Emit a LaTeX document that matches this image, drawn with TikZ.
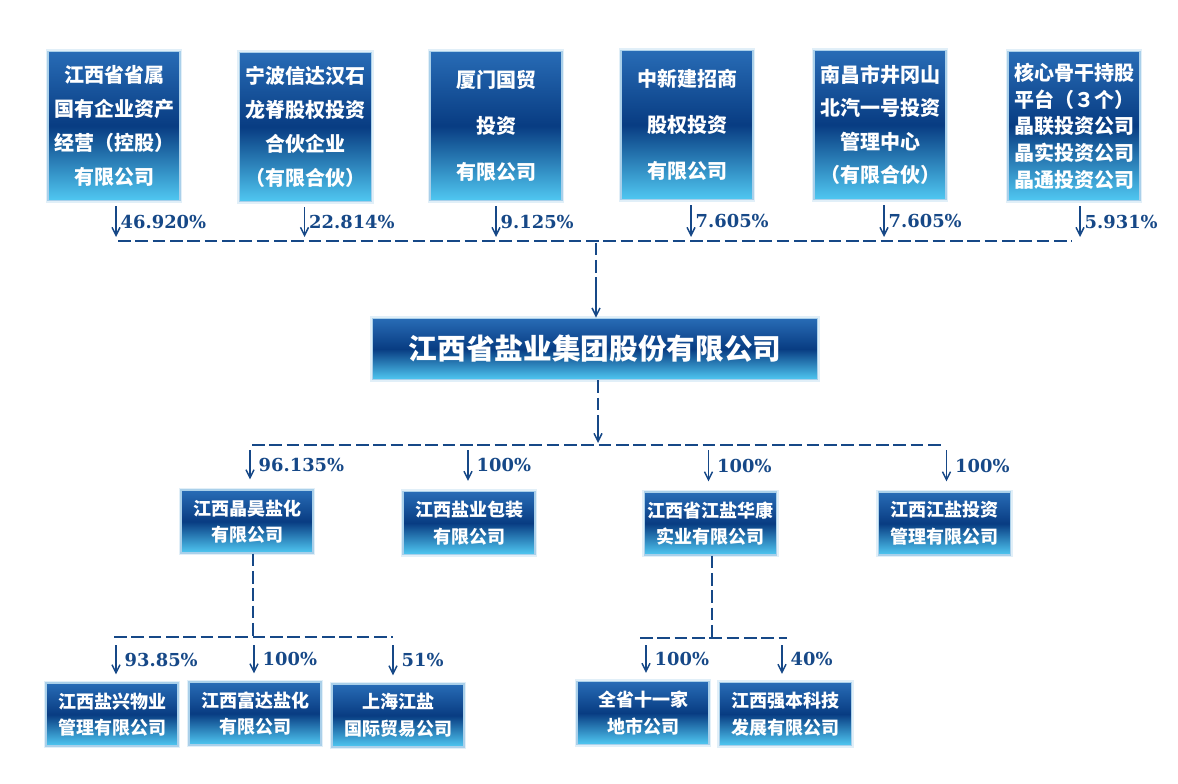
\documentclass[tikz,border=0pt]{standalone}
\usepackage{fontspec}
\newfontfamily\cjk{Noto Sans CJK SC}
\newfontfamily\pctfont{DejaVu Serif}
\usetikzlibrary{arrows.meta,calc}
\definecolor{linkblue}{RGB}{22,72,135}
\definecolor{boxtop}{RGB}{40,108,182}
\definecolor{boxmid}{RGB}{8,60,130}
\definecolor{boxbot}{RGB}{80,200,242}
\definecolor{boxedge}{RGB}{170,208,234}
\tikzset{
  box/.style={rectangle, inner sep=0pt, align=center, text=white,
    top color=boxtop, bottom color=boxbot, middle color=boxmid,
    draw=boxedge, line width=1.2pt,
    preaction={draw=boxedge, line width=3.5pt, draw opacity=0.35}},
  topbox/.style={box, minimum width=99pt, minimum height=112pt},
  subbox/.style={box, minimum width=99pt, minimum height=47pt,
    font={\cjk\bfseries\fontsize{13.5}{20}\selectfont}},
  link/.style={draw=linkblue, line width=1.4pt, dash pattern=on 9.5pt off 3.5pt},
  arr/.style={draw=linkblue, line width=1.1pt, -{Straight Barb[length=6pt,width=6pt]}},
  pct/.style={right, text=linkblue, inner sep=2pt, font={\pctfont\bfseries\fontsize{13.4}{16}\selectfont}}
}
\begin{document}
\begin{tikzpicture}[x=0.75pt,y=0.75pt,yscale=-1,xscale=1]
\useasboundingbox (0,0) rectangle (1178,784);

% shareholders
\node (t1) at (114,126) [topbox, font={\cjk\bfseries\fontsize{15}{25.5}\selectfont}] {江西省省属\\国有企业资产\\经营（控股）\\有限公司};
\node (t2) at (305.5,127) [topbox, font={\cjk\bfseries\fontsize{15}{25.5}\selectfont}] {宁波信达汉石\\龙脊股权投资\\合伙企业\\（有限合伙）};
\node (t3) at (496,126) [topbox, font={\cjk\bfseries\fontsize{15}{34.5}\selectfont}] {厦门国贸\\投资\\有限公司};
\node (t4) at (687,125) [topbox, font={\cjk\bfseries\fontsize{15}{34.5}\selectfont}] {中新建招商\\股权投资\\有限公司};
\node (t5) at (880,125) [topbox, font={\cjk\bfseries\fontsize{15}{25}\selectfont}] {南昌市井冈山\\北汽一号投资\\管理中心\\（有限合伙）};
\node (t6) at (1074,126) [topbox, font={\cjk\bfseries\fontsize{15}{20}\selectfont}] {核心骨干持股\\平台（３个）\\晶联投资公司\\晶实投资公司\\晶通投资公司};

% group company
\node (main) at (595,349) [box, minimum width=334pt, minimum height=46pt, font={\cjk\bfseries\fontsize{21.5}{24}\selectfont}] {江西省盐业集团股份有限公司};

% subsidiaries
\node (s1) at (247,521.5) [subbox] {江西晶昊盐化\\有限公司};
\node (s2) at (469,523) [subbox] {江西盐业包装\\有限公司};
\node (s3) at (710.5,523.5) [subbox] {江西省江盐华康\\实业有限公司};
\node (s4) at (944.5,523.5) [subbox] {江西江盐投资\\管理有限公司};

% second level
\node (g1) at (112,714.5) [subbox] {江西盐兴物业\\管理有限公司};
\node (g2) at (255,713.5) [subbox] {江西富达盐化\\有限公司};
\node (g3) at (398,715.5) [subbox] {上海江盐\\国际贸易公司};
\node (h1) at (643,713) [subbox] {全省十一家\\地市公司};
\node (h2) at (785.5,714) [subbox] {江西强本科技\\发展有限公司};

% bars
\coordinate (topL) at (118,241);
\coordinate (topR) at (1072,241);
\coordinate (midL) at (252,445);
\coordinate (midR) at (942,445);
\coordinate (leftL) at (114,637);
\coordinate (leftR) at (393,637);
\coordinate (rightL) at (640,638);
\coordinate (rightR) at (787,638);
\draw[link] (topL) -- (topR);
\draw[link] (midL) -- (midR);
\draw[link] (leftL) -- (leftR);
\draw[link] (rightL) -- (rightR);

% shareholder arrows
\draw[arr] ($(t1.south)+(2,5)$) -- ($(t1.south |- topL)+(2,-4)$) node[pct, midway, xshift=1pt] {46.920\%};
\draw[arr] ($(t2.south)+(-1,5)$) -- ($(t2.south |- topL)+(-1,-4)$) node[pct, midway, xshift=1pt] {22.814\%};
\draw[arr] ($(t3.south)+(0,5)$) -- ($(t3.south |- topL)+(0,-4)$) node[pct, midway, xshift=1pt] {9.125\%};
\draw[arr] ($(t4.south)+(4,5)$) -- ($(t4.south |- topL)+(4,-4)$) node[pct, midway, xshift=1pt] {7.605\%};
\draw[arr] ($(t5.south)+(4,5)$) -- ($(t5.south |- topL)+(4,-4)$) node[pct, midway, xshift=1pt] {7.605\%};
\draw[arr] ($(t6.south)+(6,5)$) -- ($(t6.south |- topL)+(6,-4)$) node[pct, midway, xshift=1pt] {5.931\%};

% into and out of group
\draw[link] ($(main.north)+(1,-75)$) -- ($(main.north)+(1,-30)$);
\draw[arr] ($(main.north)+(1,-30)$) -- (main.north -| 596,0);
\draw[link] ($(main.south)+(3,0)$) -- ($(main.south)+(3,35)$);
\draw[arr] ($(main.south)+(3,35)$) -- ($(main.south |- midL)+(3,-2)$);

\draw[arr] ($(s1.north |- midL)+(3,5)$) -- ($(s1.north)+(3,-10)$) node[pct, midway, xshift=4pt] {96.135\%};
\draw[arr] ($(s2.north |- midL)+(-1,5)$) -- ($(s2.north)+(-1,-10)$) node[pct, midway, xshift=4pt] {100\%};
\draw[arr] ($(s3.north |- midL)+(-2,5)$) -- ($(s3.north)+(-2,-10)$) node[pct, midway, xshift=4pt] {100\%};
\draw[arr] ($(s4.north |- midL)+(2,5)$) -- ($(s4.north)+(2,-10)$) node[pct, midway, xshift=4pt] {100\%};

% under jinghao
\draw[link] ($(s1.south)+(6,0)$) -- ($(s1.south |- leftL)+(6,0)$);
\draw[arr] ($(g1.north |- leftL)+(4,8)$) -- ($(g1.north)+(4,-8)$) node[pct, midway, xshift=4pt] {93.85\%};
\draw[arr] ($(g2.north |- leftL)+(-1,8)$) -- ($(g2.north)+(-1,-8)$) node[pct, midway, xshift=4pt] {100\%};
\draw[arr] ($(g3.north |- leftL)+(-5,8)$) -- ($(g3.north)+(-5,-8)$) node[pct, midway, xshift=4pt] {51\%};

% under huakang
\draw[link] ($(s3.south)+(1.5,0)$) -- ($(s3.south |- rightL)+(1.5,0)$);
\draw[arr] ($(h1.north |- rightL)+(3,7)$) -- ($(h1.north)+(3,-8)$) node[pct, midway, xshift=4pt] {100\%};
\draw[arr] ($(h2.north |- rightL)+(-3.5,7)$) -- ($(h2.north)+(-3.5,-8)$) node[pct, midway, xshift=4pt] {40\%};

\end{tikzpicture}
\end{document}
